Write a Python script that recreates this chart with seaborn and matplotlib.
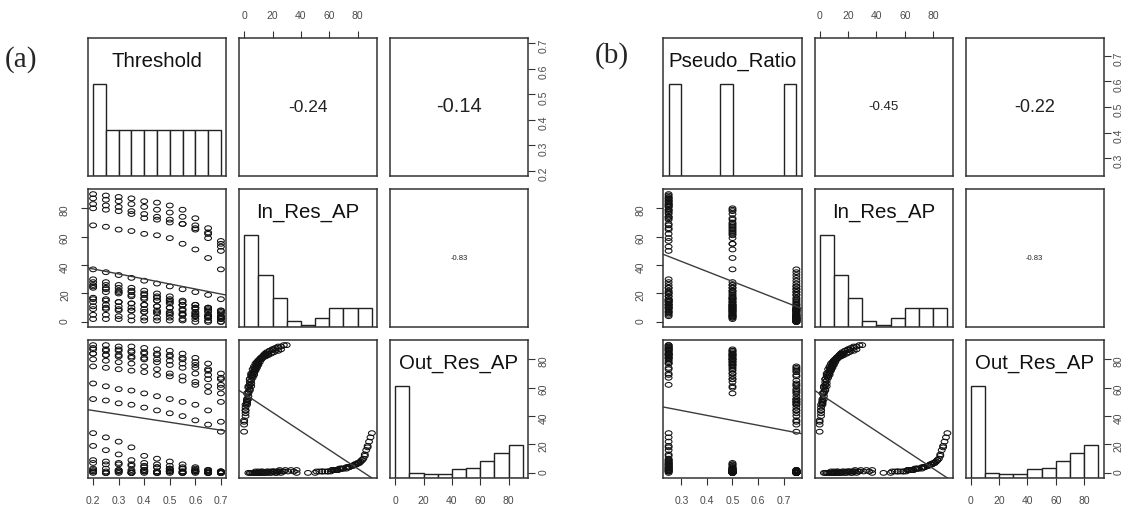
import numpy as np
import pandas as pd
import matplotlib
matplotlib.use("Agg")
import matplotlib.pyplot as plt
import seaborn as sns
from matplotlib.path import Path
from matplotlib.transforms import Affine2D

# --- data ---
thresholds = [0.2, 0.25, 0.3, 0.35, 0.4, 0.45, 0.5, 0.55, 0.6, 0.65, 0.7]
pseudo_ratios = [0.25, 0.5, 0.75]

# one row per threshold, six runs per row
in_r25 = [[90, 87, 83, 30, 24, 16], [89, 86, 82, 28, 21, 15], [88, 85, 81, 26, 20, 14],
          [87, 83, 78, 24, 18, 13], [85, 81, 76, 22, 16, 12], [84, 79, 74, 20, 15, 11],
          [82, 77, 72, 18, 14, 10], [79, 74, 69, 15, 12, 9], [73, 68, 65, 12, 10, 7],
          [66, 62, 59, 10, 8, 5], [57, 53, 50, 7, 6, 4]]
out_r25 = [[28, 19, 9, 90, 88, 84], [25, 16, 8, 90, 87, 83], [22, 13, 7, 89, 87, 83],
           [18, 9, 6, 89, 86, 82], [12, 7, 5, 88, 85, 81], [10, 6, 4, 87, 84, 80],
           [8, 5, 3, 86, 83, 79], [6, 4, 3, 84, 81, 77], [4, 3, 2, 81, 78, 74],
           [2, 2, 1, 77, 73, 69], [1, 1, 0, 70, 67, 62]]

in_r50 = [[80, 68, 26, 17, 11, 28], [79, 67, 24, 16, 10, 26], [78, 65, 22, 14, 9, 24],
          [76, 64, 21, 13, 8, 22], [73, 62, 19, 12, 7, 20], [72, 61, 17, 11, 6, 18],
          [70, 59, 15, 10, 5, 16], [69, 55, 12, 8, 5, 14], [66, 51, 9, 6, 4, 12],
          [63, 45, 7, 4, 3, 10], [55, 37, 4, 3, 2, 8]]
out_r50 = [[7, 3, 87, 84, 80, 1], [6, 3, 86, 83, 79, 0], [6, 2, 86, 82, 78, 1],
           [5, 2, 85, 81, 77, 0], [4, 2, 84, 80, 75, 1], [4, 1, 83, 78, 73, 0],
           [3, 1, 82, 76, 70, 1], [3, 1, 80, 74, 68, 0], [2, 1, 76, 70, 64, 1],
           [2, 0, 72, 66, 61, 0], [1, 0, 66, 60, 56, 1]]

in_r75 = [[9, 5, 2, 37, 25, 14], [9, 5, 2, 35, 23, 12], [8, 4, 2, 33, 21, 11],
          [8, 4, 1, 31, 19, 10], [7, 3, 1, 29, 17, 9], [7, 3, 1, 27, 15, 8],
          [6, 3, 1, 25, 13, 7], [5, 2, 1, 23, 12, 6], [4, 2, 0, 21, 10, 5],
          [3, 1, 0, 19, 9, 4], [2, 0, 0, 16, 8, 3]]
out_r75 = [[75, 63, 52, 2, 1, 0], [74, 61, 51, 1, 0, 0], [73, 59, 49, 2, 1, 0],
           [72, 58, 48, 1, 0, 0], [71, 56, 46, 2, 1, 0], [69, 54, 44, 1, 0, 0],
           [68, 52, 42, 2, 1, 0], [65, 50, 40, 1, 0, 0], [62, 48, 37, 1, 1, 0],
           [57, 44, 34, 1, 0, 0], [50, 36, 29, 0, 0, 0]]

# histogram breaks (R style, right closed)
threshold_breaks = [0.2, 0.25, 0.3, 0.35, 0.4, 0.45, 0.5, 0.55, 0.6, 0.65, 0.7]
ratio_breaks = [0.25, 0.3, 0.35, 0.4, 0.45, 0.5, 0.55, 0.6, 0.65, 0.7, 0.75]
ap_breaks = [0, 10, 20, 30, 40, 50, 60, 70, 80, 90]

# correlation labels as printed in the upper panels
corr_a = ['-0.24', '-0.14', '-0.83']
corr_b = ['-0.45', '-0.22', '-0.83']

threshold_ticks = [0.2, 0.3, 0.4, 0.5, 0.6, 0.7]
ratio_ticks = [0.3, 0.4, 0.5, 0.6, 0.7]
ap_ticks = [0, 20, 40, 60, 80]


def build_frame():
    rows = []
    for ratio, ins, outs in zip(pseudo_ratios, [in_r25, in_r50, in_r75], [out_r25, out_r50, out_r75]):
        for t, in_row, out_row in zip(thresholds, ins, outs):
            for a, b in zip(in_row, out_row):
                rows.append((t, ratio, a, b))
    return pd.DataFrame(rows, columns=['Threshold', 'Pseudo_Ratio', 'In_Res_AP', 'Out_Res_AP'])


df = build_frame()

sns.set_style("white")
plt.rcParams['font.family'] = ['Liberation Sans', 'DejaVu Sans']

W, H = 1130, 508
fig = plt.figure(figsize=(W / 100, H / 100), dpi=100)

# hollow, slightly flattened circles like the R pch=1 points in the scan
ring = Path.unit_circle().transformed(Affine2D().scale(1.0, 0.7))

EDGE = '#333333'
TICK_COL = '#4a4a4a'
cell = 138
step = 151
row_tops = [38, 189, 340]

corr_sizes_a = [12.5, 14.5, 5.5]
corr_sizes_b = [9.5, 13, 5.5]


def var_lim(values):
    lo, hi = min(values), max(values)
    pad = 0.04 * (hi - lo)
    return lo - pad, hi + pad


def draw_hist(ax, values, breaks):
    counts = pd.cut(pd.Series(values), bins=breaks, right=True,
                    include_lowest=True).value_counts(sort=False).values
    mids = [(a + b) / 2 for a, b in zip(breaks[:-1], breaks[1:])]
    hist_df = pd.DataFrame({'mid': mids, 'height': counts / counts.max()})
    sns.histplot(data=hist_df, x='mid', weights='height', bins=[float(b) for b in breaks],
                 ax=ax, color='white', edgecolor='#222222', linewidth=1.0, alpha=1)


def pairs_panel(left, names, breaks, corr_labels, corr_sizes, tick_sets):
    lims = [var_lim(df[n]) for n in names]
    axes = [[None] * 3 for _ in range(3)]
    for i in range(3):
        for j in range(3):
            x0 = left + j * step
            y0 = row_tops[i]
            ax = fig.add_axes([x0 / W, 1 - (y0 + cell) / H, cell / W, cell / H])
            axes[i][j] = ax
            ax.set_xlim(lims[j])
            if i == j:
                draw_hist(ax, df[names[i]], breaks[i])
                ax.set_xlim(lims[j])
                ax.set_ylim(0, 1.5)
                ax.text(0.5, 0.83, names[i], transform=ax.transAxes, ha='center',
                        va='center', fontsize=14.7, color='#111111')
            elif i < j:
                ax.set_ylim(lims[i])
                k = {(0, 1): 0, (0, 2): 1, (1, 2): 2}[(i, j)]
                ax.text(0.5, 0.5, corr_labels[k], transform=ax.transAxes, ha='center',
                        va='center', fontsize=corr_sizes[k], color='#222222')
            else:
                sns.scatterplot(data=df, x=names[j], y=names[i], ax=ax, marker=ring, s=24,
                                facecolors='none', edgecolor='#111111', linewidth=0.75)
                ax.set_xlim(lims[j])
                ax.set_ylim(lims[i])
                sns.regplot(data=df, x=names[j], y=names[i], ax=ax, scatter=False, ci=None,
                            truncate=False, color='#3c3c3c', line_kws={'linewidth': 1.0})
                ax.set_xlim(lims[j])
                ax.set_ylim(lims[i])
            ax.set_xlabel('')
            ax.set_ylabel('')
            ax.set_xticks([])
            ax.set_yticks([])
            for sp in ax.spines.values():
                sp.set_color(EDGE)
                sp.set_linewidth(1.1)

    tick_kw = dict(length=5, width=0.8, labelsize=7.5, color=EDGE, labelcolor=TICK_COL)
    # top of column 2
    ax = axes[0][1]
    ax.set_xticks(tick_sets[1])
    ax.tick_params(axis='x', top=True, labeltop=True, bottom=False, labelbottom=False, pad=7, **tick_kw)
    # right of row 1
    ax = axes[0][2]
    ax.set_yticks(tick_sets[0])
    ax.set_yticklabels([f'{v:.1f}' for v in tick_sets[0]])
    ax.tick_params(axis='y', right=True, labelright=True, left=False, labelleft=False,
                   labelrotation=90, pad=2.5, **tick_kw)
    # left of row 2
    ax = axes[1][0]
    ax.set_yticks(tick_sets[1])
    ax.tick_params(axis='y', left=True, labelleft=True, labelrotation=90, pad=8, **tick_kw)
    # right of row 3: the diagonal keeps its own 0-1.5 scale, so use a twin for the Out axis
    ax = axes[2][2]
    ax.set_xticks(tick_sets[2])
    ax.tick_params(axis='x', bottom=True, labelbottom=True, pad=8, **tick_kw)
    tw = ax.twinx()
    tw.set_ylim(lims[2])
    tw.set_yticks(tick_sets[2])
    tw.tick_params(axis='y', right=True, labelright=True, left=False, labelleft=False,
                   labelrotation=90, pad=2.5, **tick_kw)
    for sp in tw.spines.values():
        sp.set_visible(False)
    # bottom of column 1
    ax = axes[2][0]
    ax.set_xticks(tick_sets[0])
    ax.set_xticklabels([f'{v:.1f}' for v in tick_sets[0]])
    ax.tick_params(axis='x', bottom=True, labelbottom=True, pad=8, **tick_kw)


pairs_panel(88, ['Threshold', 'In_Res_AP', 'Out_Res_AP'],
            [threshold_breaks, ap_breaks, ap_breaks], corr_a, corr_sizes_a,
            [threshold_ticks, ap_ticks, ap_ticks])
pairs_panel(663.5, ['Pseudo_Ratio', 'In_Res_AP', 'Out_Res_AP'],
            [ratio_breaks, ap_breaks, ap_breaks], corr_b, corr_sizes_b,
            [ratio_ticks, ap_ticks, ap_ticks])

fig.text(5 / W, 1 - 60 / H, '(a)', fontsize=21, family=['Liberation Serif', 'DejaVu Serif'],
         ha='left', va='center')
fig.text(595 / W, 1 - 56 / H, '(b)', fontsize=21, family=['Liberation Serif', 'DejaVu Serif'],
         ha='left', va='center')

fig.savefig('out.png', dpi=100, facecolor='white')
